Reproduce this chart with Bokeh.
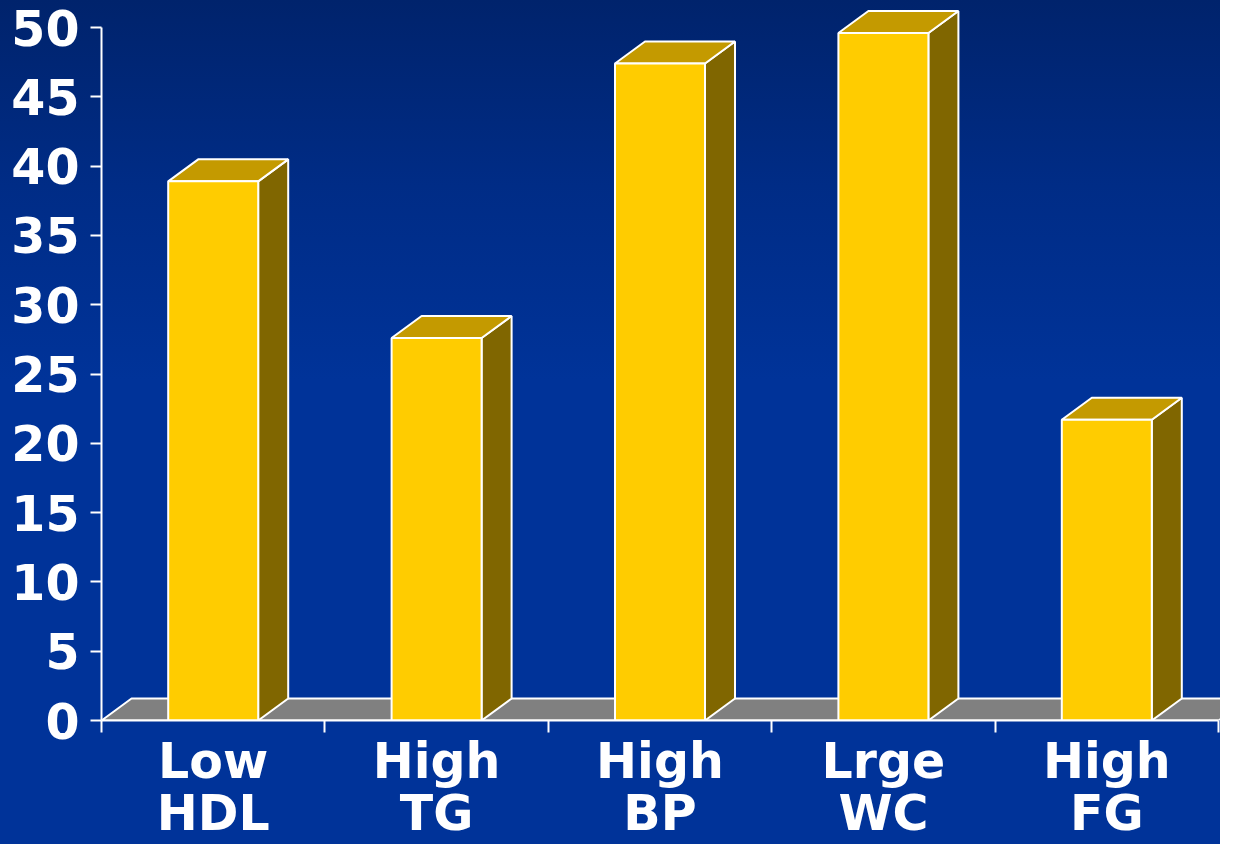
from bokeh.plotting import figure
from bokeh.models import FixedTicker, Range1d
from bokeh.embed import file_html
from bokeh.resources import INLINE

categories = ["Low\nHDL", "High\nTG", "High\nBP", "Lrge\nWC", "High\nFG"]
values = [38.9, 27.6, 47.4, 49.6, 21.7]
y_ticks = [0, 5, 10, 15, 20, 25, 30, 35, 40, 45, 50]

FRONT = "#FFCC00"
TOP = "#C49A00"
SIDE = "#806600"
FLOOR = "#808080"

W, H = 1220, 844
left, right_b, top_b = 101, 0, 0
y0_px = 720
bottom_b = H - y0_px
n = len(categories)
px_per_x = 1117 / 5
px_per_y = 693 / 50
x_end = (W - left - right_b) / px_per_x
y_end = (H - top_b - bottom_b) / px_per_y

dx = 30 / px_per_x
dy = 22 / px_per_y
bw = 90 / px_per_x

p = figure(width=W, height=H, output_backend="svg", toolbar_location=None,
           x_range=Range1d(0, x_end), y_range=Range1d(0, y_end),
           min_border_left=left, min_border_right=right_b,
           min_border_top=top_b, min_border_bottom=bottom_b)
p.background_fill_alpha = 0
p.border_fill_alpha = 0
p.outline_line_color = None
p.styles = {"background-image": "linear-gradient(to bottom, #00236c 0%, #002c86 22%, #003399 45%, #003399 100%)"}
p.xgrid.visible = False
p.ygrid.visible = False

# floor
p.patch([0, n, n + dx, dx], [0, 0, dy, dy], fill_color=FLOOR,
        line_color="white", line_width=2)

# bars
lefts = [i + 0.5 - bw / 2 for i in range(n)]
rights = [i + 0.5 + bw / 2 for i in range(n)]
side_xs = [[r, r + dx, r + dx, r] for r in rights]
side_ys = [[0, dy, v + dy, v] for v in values]
top_xs = [[l, r, r + dx, l + dx] for l, r in zip(lefts, rights)]
top_ys = [[v, v, v + dy, v + dy] for v in values]
p.patches(side_xs, side_ys, fill_color=SIDE, line_color="white", line_width=2)
p.patches(top_xs, top_ys, fill_color=TOP, line_color="white", line_width=2)
p.quad(left=lefts, right=rights, bottom=0, top=values, fill_color=FRONT,
       line_color="white", line_width=2)

font = "DejaVu Sans"

xa = p.xaxis[0]
xa.ticker = FixedTicker(ticks=[i + 0.5 for i in range(n)],
                        minor_ticks=list(range(n + 1)))
xa.major_label_overrides = {i + 0.5: c for i, c in enumerate(categories)}
xa.bounds = (0, n)
xa.axis_line_color = "white"
xa.axis_line_width = 2
xa.major_tick_out = 0
xa.major_tick_in = 0
xa.minor_tick_out = 12
xa.minor_tick_in = 0
xa.minor_tick_line_color = "white"
xa.minor_tick_line_width = 2
xa.major_label_standoff = 0
xa.major_label_text_font = font
xa.major_label_text_font_style = "bold"
xa.major_label_text_font_size = "49px"
xa.major_label_text_color = "white"
xa.major_label_text_line_height = 0.92

ya = p.yaxis[0]
ya.ticker = FixedTicker(ticks=y_ticks, minor_ticks=[])
ya.bounds = (0, 50)
ya.axis_line_color = "white"
ya.axis_line_width = 2
ya.major_tick_out = 11
ya.major_tick_in = 0
ya.major_tick_line_color = "white"
ya.major_tick_line_width = 2
ya.major_label_standoff = 11
ya.major_label_text_font = font
ya.major_label_text_font_style = "bold"
ya.major_label_text_font_size = "49px"
ya.major_label_text_color = "white"

open("out.html", "w").write(file_html(p, INLINE))
